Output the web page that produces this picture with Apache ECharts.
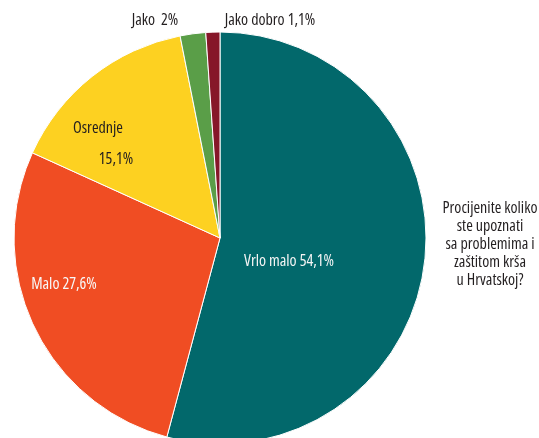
<!DOCTYPE html>
<html>
<head>
<meta charset="utf-8">
<script src="https://cdn.jsdelivr.net/npm/echarts@6/dist/echarts.min.js"></script>
<style>
  html, body { margin: 0; padding: 0; background: #fff; }
  #chart { width: 539px; height: 438px; }
</style>
</head>
<body>
<div id="chart"></div>
<script>
  // podaci
  const categories = ['Vrlo malo', 'Malo', 'Osrednje', 'Jako', 'Jako dobro'];
  const values = [54.1, 27.6, 15.1, 2, 1.1];
  const valueLabels = ['54,1%', '27,6%', '15,1%', '2%', '1,1%'];
  const colors = ['#02686b', '#f04d23', '#fdd121', '#5a9e48', '#861729'];
  const question = 'Procijenite koliko\nste upoznati\nsa problemima i\nzaštitom krša\nu Hrvatskoj?';

  const font = '"Open Sans", sans-serif';
  const stretch = 'condensed'; // uski font kao u originalu
  // gdje stoje natpisi
  const labelPos = [
    { x: 289, y: 261 },
    { x: 64, y: 284 },
    { x: 98, y: 144 },
    { x: 155, y: 20 },
    { x: 270, y: 20 }
  ];
  const labelColor = ['#f4f4f4', '#f8f8f8', '#231f20', '#231f20', '#231f20'];

  let data = [];
  for (let i = 0; i < categories.length; i++) {
    let fmt = categories[i] + ' ' + valueLabels[i];
    if (i === 2) fmt = categories[i] + '\n{v|' + valueLabels[i] + '}';
    if (i === 3) fmt = categories[i] + '  ' + valueLabels[i];
    data.push({
      name: categories[i],
      value: values[i],
      itemStyle: { color: colors[i] },
      label: {
        color: labelColor[i],
        formatter: fmt,
        lineHeight: i === 2 ? 31 : 18
      }
    });
  }

  let myChart = echarts.init(document.getElementById('chart'));
  myChart.setOption({
    backgroundColor: '#ffffff',
    graphic: [{
      type: 'text',
      x: 490,
      y: 199,
      silent: true,
      style: {
        text: question,
        textAlign: 'center',
        textVerticalAlign: 'top',
        fontFamily: font,
        fontWeight: stretch,
        fontSize: 16,
        lineHeight: 18,
        fill: '#231f20'
      }
    }],
    series: [{
      type: 'pie',
      center: [220, 238],
      radius: 206,
      startAngle: 90,
      clockwise: true,
      silent: true,
      animation: false,
      itemStyle: { borderColor: '#ffffff', borderWidth: 1 },
      label: {
        show: true,
        position: 'inside',
        fontFamily: font,
        fontWeight: stretch,
        fontSize: 16,
        rich: {
          v: {
            fontFamily: font,
            fontWeight: stretch,
            fontSize: 16,
            lineHeight: 31,
            color: '#231f20',
            padding: [0, 0, 0, 36]
          }
        }
      },
      labelLine: { show: false },
      labelLayout: function (params) {
        let p = labelPos[params.dataIndex];
        return { x: p.x, y: p.y, align: 'center', verticalAlign: 'middle' };
      },
      data: data
    }]
  });
</script>
</body>
</html>
